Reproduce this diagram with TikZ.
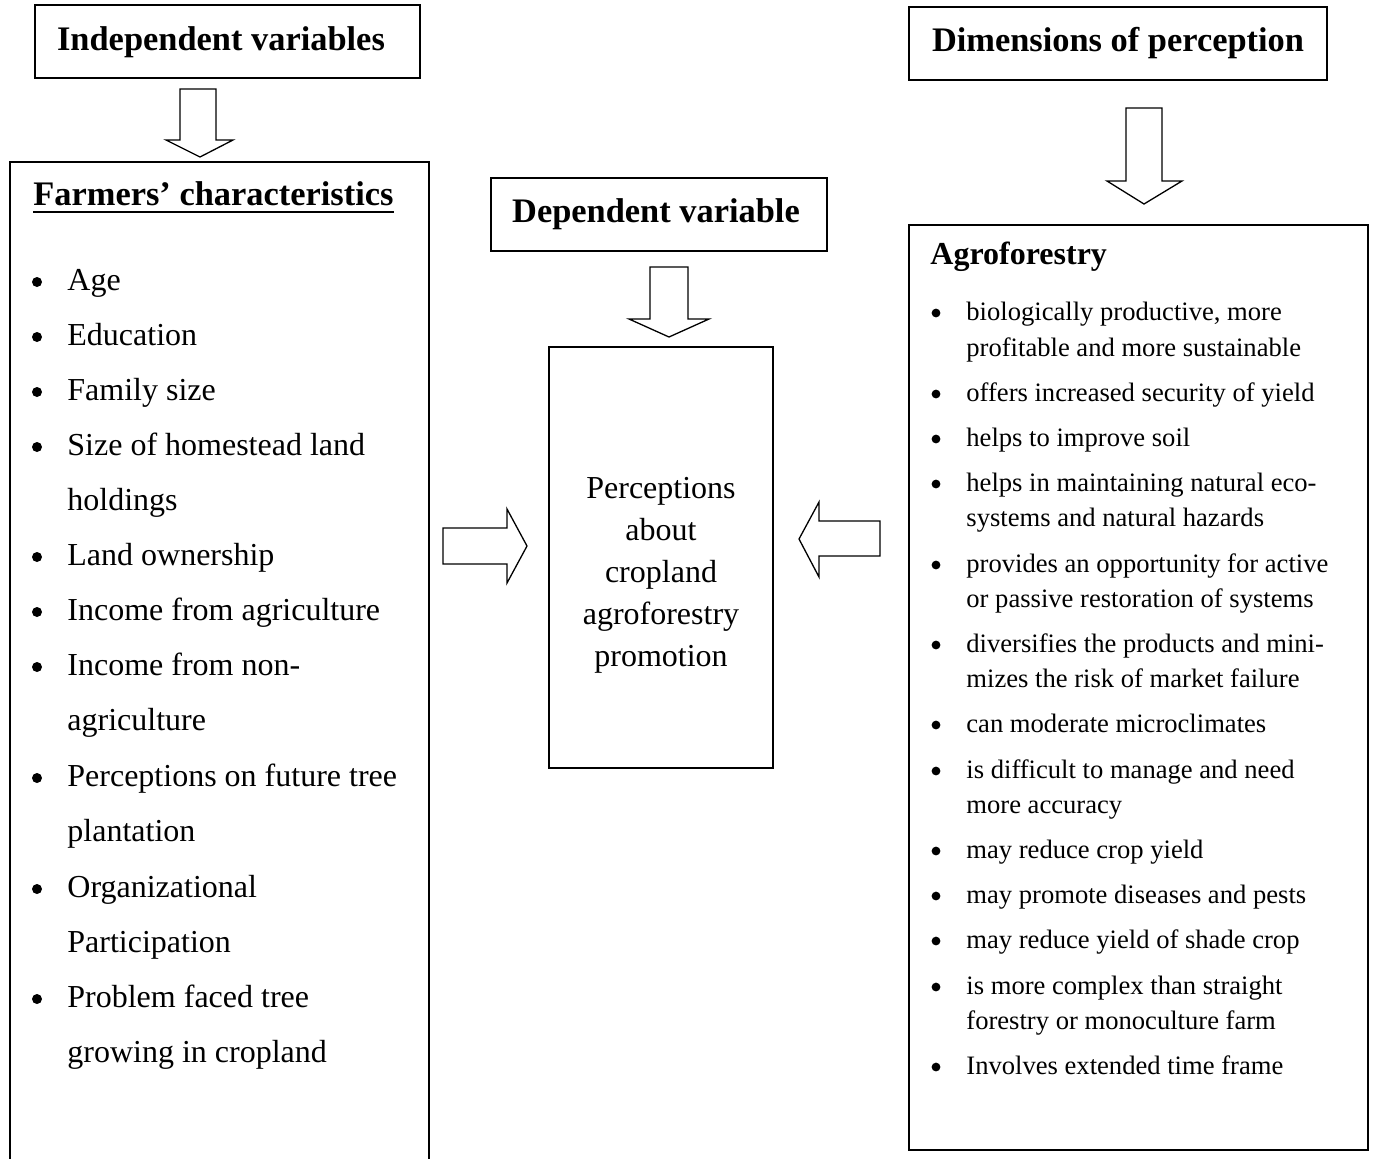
\documentclass[tikz,border=0pt]{standalone}
\usepackage{fontspec}
\setmainfont{Liberation Serif}
\usetikzlibrary{fit}
\begin{document}
\begin{tikzpicture}[x=0.5pt,y=-0.5pt,
  box/.style={draw, line width=0.9pt, inner sep=0pt},
  blockarrow/.style={draw, line width=0.65pt, fill=white, line join=miter},
  hd/.style={font=\fontsize{17.2}{20}\selectfont\bfseries, inner sep=0pt, anchor=base},
  li/.style={font=\fontsize{16}{20}\selectfont, inner sep=0pt, anchor=base west},
  ci/.style={font=\fontsize{16}{20}\selectfont, inner sep=0pt, anchor=base},
  ri/.style={font=\fontsize{13.3}{16}\selectfont, inner sep=0pt, anchor=base west}]
\useasboundingbox (0,0) rectangle (1374,1158);

% boxes
\node[box, fit={(35,5)(420,78)}] (indepbox) {};
\node[box, fit={(10,162)(429,1175)}] (leftbox) {};
\node[box, fit={(491,178)(827,251)}] (depbox) {};
\node[box, fit={(549,347)(773,768)}] (centerbox) {};
\node[box, fit={(909,7)(1327,80)}] (dimbox) {};
\node[box, fit={(909,225)(1368,1150)}] (rightbox) {};

% headings
\node[hd] (t1) at (221,50) {Independent variables};
\node[hd] (t2) at (656,222) {Dependent variable};
\node[hd] (t3) at (1118,51) {Dimensions of perception};
\node[hd, anchor=base west, inner xsep=0pt, inner ysep=3pt] (fc) at (33,205) {Farmers’ characteristics};
\draw[line width=0.9pt] (fc.south west) -- (fc.south east);
\node[font=\fontsize{16}{20}\selectfont\bfseries, inner sep=0pt, anchor=base west] (agro) at (930,264) {Agroforestry};

% block arrows
\draw[blockarrow] (180,89) -- (216,89) -- (216,140) -- (233,140) -- (200,157) -- (166,140) -- (180,140) -- cycle;
\draw[blockarrow] (650,267) -- (688,267) -- (688,319) -- (709,319) -- (669,337) -- (629,319) -- (650,319) -- cycle;
\draw[blockarrow] (1126,108) -- (1162,108) -- (1162,181) -- (1182,181) -- (1144,204) -- (1107,181) -- (1126,181) -- cycle;
\draw[blockarrow] (443,528) -- (507,528) -- (507,509) -- (527,546) -- (507,583) -- (507,564) -- (443,564) -- cycle;
\draw[blockarrow] (880,521) -- (819,521) -- (819,502) -- (799,539) -- (819,577) -- (819,556) -- (880,556) -- cycle;

% left list
\foreach \yy/\txt/\b [count=\i] in {290/Age/1,345/Education/1,400/Family size/1,455/Size of homestead land/1,510/holdings/0,565/Land ownership/1,620/Income from agriculture/1,675/Income from non-/1,730/agriculture/0,786/Perceptions on future tree/1,841/plantation/0,897/Organizational/1,952/Participation/0,1007/Problem faced tree/1,1062/growing in cropland/0}{
  \node[li] (L\i) at (67,\yy) {\txt};
  \ifnum\b=1 \fill (37,\yy-8) circle[radius=2.5pt];\fi
}

% center text
\foreach \yy/\txt [count=\i] in {498/Perceptions,540/about,582/cropland,624/agroforestry,666/promotion}{
  \node[ci] (C\i) at (661,\yy) {\txt};
}

% right list
\foreach \yy/\txt/\b [count=\i] in {320/{biologically productive, more}/1,356/profitable and more sustainable/0,401/offers increased security of yield/1,446/helps to improve soil/1,491/helps in maintaining natural eco-/1,526/systems and natural hazards/0,572/provides an opportunity for active/1,607/or passive restoration of systems/0,652/diversifies the products and mini-/1,687/mizes the risk of market failure/0,732/can moderate microclimates/1,778/is difficult to manage and need/1,813/more accuracy/0,858/may reduce crop yield/1,903/may promote diseases and pests/1,948/may reduce yield of shade crop/1,994/is more complex than straight/1,1029/forestry or monoculture farm/0,1074/Involves extended time frame/1}{
  \node[ri] (R\i) at (966,\yy) {\txt};
  \ifnum\b=1 \fill (936,\yy-7) circle[radius=2.2pt];\fi
}
\end{tikzpicture}
\end{document}
